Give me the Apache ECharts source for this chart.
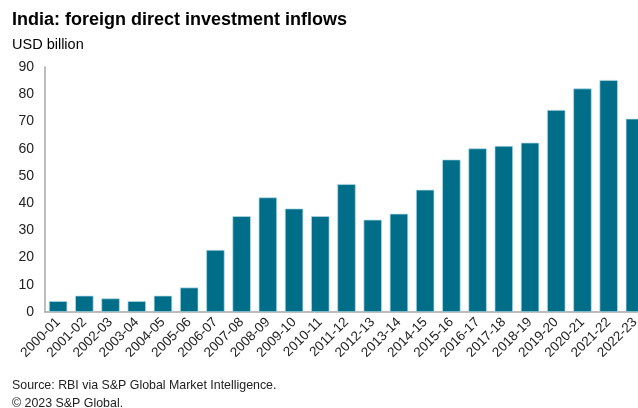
<!DOCTYPE html>
<html><head><meta charset="utf-8">
<script src="https://cdn.jsdelivr.net/npm/echarts@6/dist/echarts.min.js"></script>
<style>html,body{margin:0;padding:0;background:#fff;overflow:hidden;width:638px;height:408px}#c{width:648px;height:408px}</style>
</head><body><div id="c"></div>
<script>
const categories = ["2000-01","2001-02","2002-03","2003-04","2004-05","2005-06","2006-07","2007-08","2008-09","2009-10","2010-11","2011-12","2012-13","2013-14","2014-15","2015-16","2016-17","2017-18","2018-19","2019-20","2020-21","2021-22","2022-23"];
const fdiInflows = [4.0,6.0,5.0,4.0,6.0,9.0,22.8,35.2,42.1,38.0,35.2,47.0,33.9,36.1,44.9,56.0,60.1,61.0,62.2,74.2,82.1,85.2,71.0];
const yTicks = {min:0, max:90, interval:10};
const titleText = "India: foreign direct investment inflows";
const unitText = "USD billion";
const sourceText = "Source: RBI via S&P Global Market Intelligence.";
const copyrightText = "© 2023 S&P Global.";

const chart = echarts.init(document.getElementById('c'), null, {renderer:'canvas'});
const F = "'Liberation Sans', Arial, sans-serif";
chart.setOption({
  animation:false,
  title:[
    {text:titleText, left:7, top:6, textStyle:{fontFamily:F, fontSize:18, fontWeight:'bold', color:'#000'}},
    {text:unitText, left:7, top:32, textStyle:{fontFamily:F, fontSize:14.5, fontWeight:'normal', color:'#000'}},
    {text:sourceText, left:7, top:375, textStyle:{fontFamily:F, fontSize:12.4, fontWeight:'normal', color:'#222'}},
    {text:copyrightText, left:7, top:393, textStyle:{fontFamily:F, fontSize:12.4, fontWeight:'normal', color:'#222'}}
  ],
  grid:{left:45, top:67, bottom:96, right:0, containLabel:false},
  xAxis:{type:'category', data:categories,
    axisLine:{lineStyle:{color:'#a6a6a6', width:1.5}},
    axisTick:{show:false},
    axisLabel:{rotate:45, interval:0, fontFamily:F, fontSize:13.5, color:'#222', margin:8}},
  yAxis:{type:'value', min:yTicks.min, max:yTicks.max, interval:yTicks.interval,
    axisLine:{show:true, lineStyle:{color:'#a6a6a6', width:1.5}},
    axisTick:{show:false},
    splitLine:{show:false},
    axisLabel:{fontFamily:F, fontSize:14, color:'#222', margin:11}},
  series:[{type:'bar', data:fdiInflows, barCategoryGap:'30%',
    itemStyle:{color:'#006e89', borderColor:'#b5dce6', borderWidth:0.7}}]
});
</script></body></html>
